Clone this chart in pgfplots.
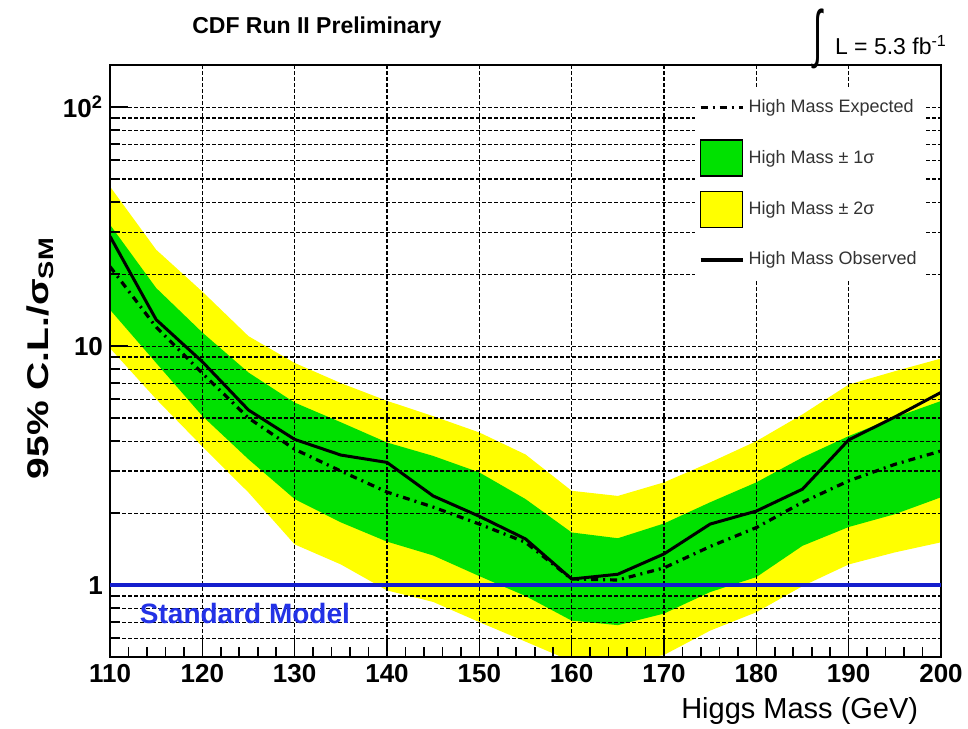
\documentclass[border=0pt]{standalone}
\usepackage{fontspec}
\setmainfont{Liberation Sans}
\usepackage{pgfplots}
\pgfplotsset{compat=1.18}
\usepackage{pgfplotstable}
\usepgfplotslibrary{fillbetween}

\definecolor{bandgreen}{RGB}{0,225,0}
\definecolor{bandyellow}{RGB}{255,255,0}
\definecolor{smblue}{RGB}{20,30,205}
\definecolor{smtext}{RGB}{35,50,230}

% Higgs mass, observed and expected limits, -2/-1/+1/+2 sigma bands
\pgfplotstableread{
m   obs   exp   m2    m1    p1    p2
110 28.8  21.5  9.8   14.2  32.2  46.5
115 12.9  12.0  6.0   8.5   17.5  25.3
120 8.6   7.7   3.8   5.1   11.4  16.9
125 5.4   5.0   2.44  3.36  7.75  11.0
130 4.07  3.7   1.48  2.29  5.8   8.5
135 3.5   3.0   1.22  1.83  4.8   7.0
140 3.26  2.45  0.95  1.52  3.95  5.9
145 2.36  2.12  0.85  1.33  3.47  5.09
150 1.94  1.80  0.70  1.09  2.96  4.35
155 1.56  1.51  0.58  0.90  2.29  3.52
160 1.06  1.06  0.48  0.71  1.66  2.48
165 1.11  1.05  0.47  0.68  1.57  2.36
170 1.35  1.18  0.51  0.76  1.81  2.69
175 1.80  1.45  0.645 0.935 2.22  3.26
180 2.04  1.74  0.77  1.08  2.69  4.0
185 2.52  2.22  0.99  1.46  3.42  5.18
190 4.05  2.73  1.22  1.75  4.2   6.9
195 5.05  3.2   1.37  1.98  5.03  7.85
200 6.4   3.64  1.51  2.33  5.89  8.87
}\limits

\begin{document}
\begin{tikzpicture}
\begin{axis}[
  name=ax,
  set layers,
  fill between/on layer=axis background,
  scale only axis,
  width=415.5pt, height=296pt,
  xmin=110, xmax=200,
  ymin=0.5, ymax=150,
  ymode=log,
  xtick={110,120,...,200},
  minor x tick num=4,
  ytick={1,10,100},
  yticklabels={1,10,10\textsuperscript{2}},
  minor ytick={0.6,0.7,0.8,0.9,2,3,4,5,6,7,8,9,20,30,40,50,60,70,80,90},
  xtick pos=left, ytick pos=left,
  tick align=inside,
  major tick length=9pt, minor tick length=5pt,
  tick style={black, line width=0.8pt},
  xmajorgrids, ymajorgrids, yminorgrids,
  grid style={black, line width=0.55pt, dash pattern=on 1.8pt off 1.2pt},
  axis line style={line width=0.9pt},
  clip mode=individual,
  ticklabel style={font=\bfseries\fontsize{13}{15}\selectfont},
  /pgf/number format/assume math mode=true,
  xlabel={Higgs Mass (GeV)},
  xlabel style={at={(rel axis cs:0.981,-0.0912)}, anchor=east,
    font=\fontsize{14.5}{17}\selectfont},
  ylabel={\scalebox{1.3}[1]{95\% C.L./σ\textsubscript{SM}}},
  ylabel style={at={(rel axis cs:-0.084,0.505)}, anchor=center,
    font=\bfseries\fontsize{15}{17}\selectfont},
  title={CDF Run II Preliminary},
  title style={at={(rel axis cs:0.249,1)}, anchor=center, yshift=12.5pt,
    font=\bfseries\fontsize{11.5}{13}\selectfont},
  legend cell align=left,
  legend style={at={(rel axis cs:1,1)}, anchor=north east,
    xshift=-8pt, yshift=-11pt, draw=none, fill=white,
    row sep=7pt, inner xsep=2pt, inner ysep=1pt,
    font=\fontsize{9}{11}\selectfont, text=black!80},
]
% +-2 sigma band
\addplot[name path=p2, draw=none, forget plot] table[x=m, y=p2] {\limits};
\addplot[name path=m2, draw=none, forget plot] table[x=m, y=m2] {\limits};
\addplot[bandyellow, forget plot] fill between[of=p2 and m2];
% +-1 sigma band
\addplot[name path=p1, draw=none, forget plot] table[x=m, y=p1] {\limits};
\addplot[name path=m1, draw=none, forget plot] table[x=m, y=m1] {\limits};
\addplot[bandgreen, forget plot] fill between[of=p1 and m1];
% SM reference line
\addplot[smblue, line width=2pt, forget plot] coordinates {(110,1) (200,1)};
% expected and observed limits
\addplot[black, line width=1.6pt, dash pattern=on 3.5pt off 2.5pt on 1pt off 2.5pt, forget plot]
  table[x=m, y=exp] {\limits};
\addplot[black, line width=1.5pt, forget plot] table[x=m, y=obs] {\limits};

\addlegendimage{legend image code/.code={
  \path[draw=none, fill=none] (0pt,-9pt) rectangle (21pt,9pt);
  \draw[black, line width=1.6pt, dash pattern=on 3.5pt off 2.5pt on 1pt off 2.5pt] (0pt,0pt) -- (21pt,0pt);}}
\addlegendentry{High Mass Expected}
\addlegendimage{legend image code/.code={
  \draw[fill=bandgreen, draw=black, line width=0.6pt] (0pt,-9pt) rectangle (21pt,9pt);}}
\addlegendentry{High Mass ± 1σ}
\addlegendimage{legend image code/.code={
  \draw[fill=bandyellow, draw=black, line width=0.6pt] (0pt,-9pt) rectangle (21pt,9pt);}}
\addlegendentry{High Mass ± 2σ}
\addlegendimage{legend image code/.code={
  \path[draw=none, fill=none] (0pt,-9pt) rectangle (21pt,9pt);
  \draw[black, line width=2pt] (0pt,0pt) -- (21pt,0pt);}}
\addlegendentry{High Mass Observed}

\node[anchor=west, inner sep=0pt, text=smtext,
  font=\bfseries\fontsize{14}{16}\selectfont] at (axis cs:113.2,0.757) {Standard Model};
\node[anchor=south, inner sep=0pt, yshift=-2pt] at (rel axis cs:0.852,1)
  {\resizebox*{4.5pt}{30pt}{∫}};
\node[anchor=west, inner sep=0pt, yshift=10pt, font=\fontsize{11.5}{13}\selectfont]
  at (rel axis cs:0.872,1) {L = 5.3 fb\textsuperscript{-1}};
\end{axis}
\pgfresetboundingbox
\useasboundingbox ([shift={(-55pt,-35.5pt)}]ax.south west) rectangle ([shift={(13.5pt,32.5pt)}]ax.north east);
\end{tikzpicture}
\end{document}
